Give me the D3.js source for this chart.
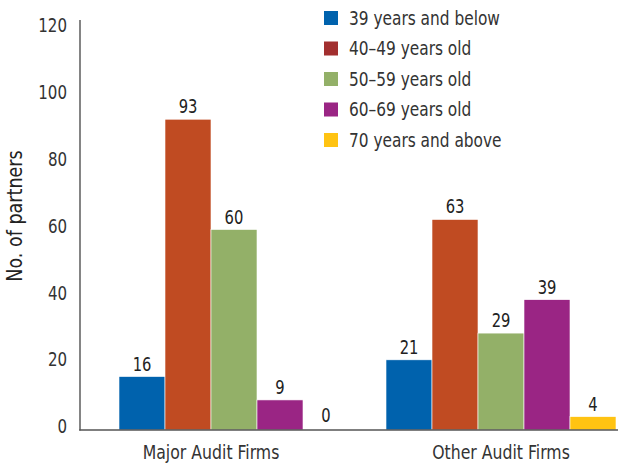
<!DOCTYPE html>
<html>
<head>
<meta charset="utf-8">
<script src="https://cdn.jsdelivr.net/npm/d3@7"></script>
<style>
  html, body { margin: 0; padding: 0; background: #fff; }
  svg text { font-family: "DejaVu Sans Condensed", "DejaVu Sans", sans-serif; }
</style>
</head>
<body>
<svg id="chart" width="619" height="464"></svg>
<script>
// Partners by age band, per firm type
const groups = ["Major Audit Firms", "Other Audit Firms"];
const ageBands = ["39 years and below", "40–49 years old", "50–59 years old", "60–69 years old", "70 years and above"];
const majorFirms = [16, 93, 60, 9, 0];
const otherFirms = [21, 63, 29, 39, 4];
const yTicks = [0, 20, 40, 60, 80, 100, 120];
const yTitle = "No. of partners";

const barColors = ["#0062AD", "#C04B22", "#93B068", "#9A2584", "#FFC312"];
const swatchColors = ["#0062AD", "#A22F2F", "#93B068", "#9A2584", "#FFC312"];

const series = [majorFirms, otherFirms];
const rows = groups.map((g, i) => ({
  group: g,
  values: ageBands.map((b, j) => ({ band: b, idx: j, value: series[i][j] }))
}));

const svg = d3.select("#chart");
const baseline = 430;

const x0 = d3.scaleBand().domain(groups).range([119, 616]).paddingInner(0.1386).paddingOuter(0);
const x1 = d3.scaleBand().domain(ageBands).range([0, x0.bandwidth()]);
const y = d3.scaleLinear().domain([0, 120]).range([baseline, 29]);

// narrow text: place at (x, y) and squeeze horizontally
const narrow = (sel, fx, fy, sx) =>
  sel.attr("transform", function (d, i) {
    return `translate(${fx(d, i)},${fy(d, i)}) scale(${sx},1)`;
  });

// Bars
const g = svg.selectAll("g.grp").data(rows).join("g")
  .attr("class", "grp")
  .attr("transform", d => `translate(${x0(d.group)},0)`);

g.selectAll("rect").data(d => d.values).join("rect")
  .attr("x", d => x1(d.band))
  .attr("y", d => y(d.value))
  .attr("width", x1.bandwidth())
  .attr("height", d => baseline - y(d.value))
  .attr("fill", d => barColors[d.idx])
  .attr("stroke", "#fff")
  .attr("stroke-width", 0.6);

// Value labels
g.selectAll("text.val").data(d => d.values).join("text")
  .attr("class", "val")
  .attr("text-anchor", "middle")
  .attr("font-size", 20)
  .attr("fill", "#222")
  .text(d => d.value)
  .call(narrow,
    d => x1(d.band) + x1.bandwidth() / 2,
    d => y(d.value) - (d.value === 0 ? 8 : 6),
    0.82);

// Category labels, centred under the bars that carry partners
g.append("text")
  .attr("text-anchor", "middle")
  .attr("font-size", 19)
  .attr("fill", "#333")
  .text(d => d.group)
  .call(narrow, d => {
    const shown = d.values.filter(v => v.value > 0);
    const a = x1(shown[0].band), b = x1(shown[shown.length - 1].band) + x1.bandwidth();
    return (a + b) / 2;
  }, () => 459, 0.92);

// Axes
const yAxis = d3.axisLeft(y).tickValues(yTicks).tickSize(0).tickPadding(12);
const ya = svg.append("g").attr("transform", "translate(80,0)").call(yAxis);
ya.select(".domain").remove();
ya.selectAll(".tick text")
  .attr("font-size", 19)
  .attr("fill", "#333")
  .attr("dy", "0.2em")
  .attr("x", 0)
  .style("font-family", "\"DejaVu Sans Condensed\", \"DejaVu Sans\", sans-serif")
  .attr("transform", "translate(-13,-1) scale(0.88,1)");

svg.append("line")
  .attr("x1", 80).attr("x2", 80)
  .attr("y1", 20).attr("y2", baseline + 0.5)
  .attr("stroke", "#666").attr("stroke-width", 1.6);
svg.append("line")
  .attr("x1", 79.2).attr("x2", 618)
  .attr("y1", baseline).attr("y2", baseline)
  .attr("stroke", "#555").attr("stroke-width", 1.6);

// Axis title
svg.append("text")
  .attr("transform", "translate(22,216) rotate(-90) scale(0.93,1)")
  .attr("text-anchor", "middle")
  .attr("font-size", 21)
  .attr("fill", "#222")
  .text(yTitle);

// Legend
const lg = svg.append("g").selectAll("g").data(ageBands).join("g")
  .attr("transform", (d, i) => `translate(324,${18 + i * 30.5})`);
lg.append("rect").attr("x", 0).attr("y", -7).attr("width", 14).attr("height", 14)
  .attr("fill", (d, i) => swatchColors[i]);
lg.append("text")
  .attr("dy", "0.35em")
  .attr("font-size", 19).attr("fill", "#333")
  .attr("transform", "translate(25,0) scale(0.9,1)")
  .text(d => d);
</script>
</body>
</html>
